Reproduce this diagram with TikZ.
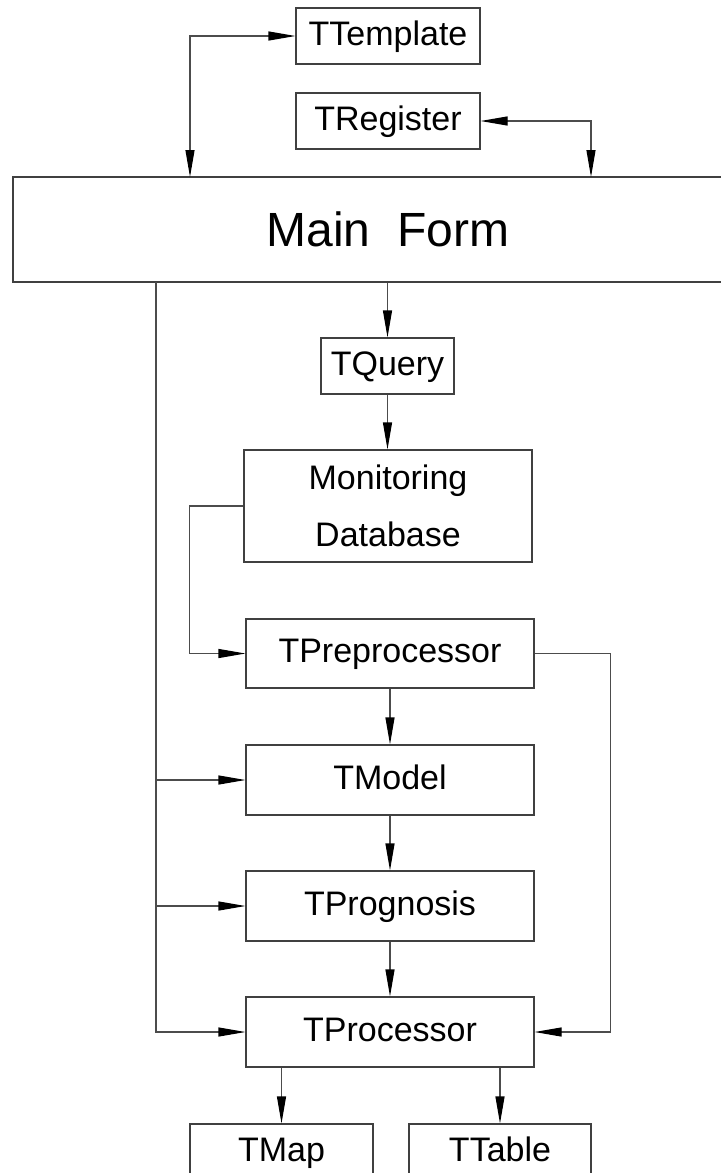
\documentclass[tikz,border=0pt]{standalone}
\usepackage{fontspec}
\setmainfont{Liberation Sans}
\usetikzlibrary{arrows.meta}
\begin{document}
\begin{tikzpicture}[x=1bp,y=-1bp,
  box/.style={draw=black!75, line width=1.1bp, inner sep=0pt, align=center,
    font=\fontsize{34bp}{57bp}\selectfont},
  one/.style={text height=25bp, text depth=7bp},
  conn/.style={draw=black!70, line width=1.1bp},
  arr/.style={conn, -{Triangle[length=27bp,width=9bp,color=black]}},
  darr/.style={conn, {Triangle[length=27bp,width=9bp,color=black]}-{Triangle[length=27bp,width=9bp,color=black]}}]
\useasboundingbox (0,0) rectangle (721,1173);
\node[box, one, minimum width=184bp, minimum height=56bp] (tpl) at (388,36) {TTemplate};
\node[box, one, minimum width=184bp, minimum height=56bp] (reg) at (388,121) {TRegister};
\node[box, minimum width=750bp, minimum height=105bp, font=\fontsize{48bp}{58bp}\selectfont] (main) at (388,229.5) {Main\ \ Form};
\node[box, one, minimum width=133bp, minimum height=56bp] (qry) at (387.5,366) {TQuery};
\node[box, minimum width=288bp, minimum height=112bp] (mdb) at (388,506) {Monitoring\\Database};
\node[box, one, minimum width=288bp, minimum height=69bp] (pre) at (390,653.5) {TPreprocessor};
\node[box, one, minimum width=288bp, minimum height=70bp] (model) at (390,780) {TModel};
\node[box, one, minimum width=288bp, minimum height=70bp] (prog) at (390,906) {TPrognosis};
\node[box, one, minimum width=288bp, minimum height=70bp] (proc) at (390,1032) {TProcessor};
\node[box, one, minimum width=183bp, minimum height=56bp] (map) at (281.5,1152) {TMap};
\node[box, one, minimum width=182bp, minimum height=56bp] (tab) at (500,1152) {TTable};
\coordinate (a1) at (190,177);
\coordinate (a2) at (591,177);
\coordinate (bus) at (156,282);
\draw[darr] (tpl.west) -| (a1);
\draw[darr] (reg.east) -| (a2);
\draw[arr] (qry.north |- main.south) -- (qry.north);
\draw[arr] (qry.south) -- (qry.south |- mdb.north);
\draw[arr] (mdb.west) -- ++(-54,0) |- (pre.west);
\draw[arr] (pre.south) -- (model.north);
\draw[arr] (model.south) -- (prog.north);
\draw[arr] (prog.south) -- (proc.north);
\draw[arr] (bus) |- (proc.west);
\draw[arr] (bus |- model.west) -- (model.west);
\draw[arr] (bus |- prog.west) -- (prog.west);
\draw[arr] (pre.east) -- ++(76,0) |- (proc.east);
\draw[arr] (map.north |- proc.south) -- (map.north);
\draw[arr] (tab.north |- proc.south) -- (tab.north);
\end{tikzpicture}
\end{document}
